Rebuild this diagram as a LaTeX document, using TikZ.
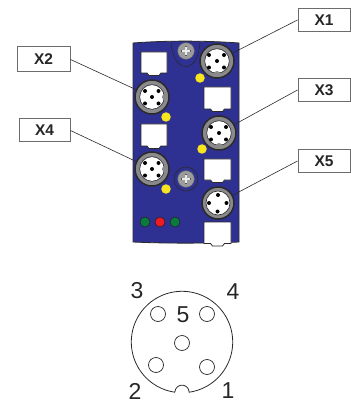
\documentclass[tikz,border=0pt]{standalone}
\usepackage{fontspec}
\setmainfont{Liberation Sans}
\definecolor{bodyblue}{HTML}{2E3192}
\definecolor{ringgray}{HTML}{8A8A8C}
\definecolor{ledyellow}{HTML}{F7E51E}
\definecolor{ledgreen}{HTML}{0B7A3E}
\definecolor{ledred}{HTML}{ED1C24}
\definecolor{edge}{HTML}{2A2A2A}
\tikzset{
  x=1pt,y=-1pt,
  label box/.style={draw=gray!85!black,line width=1pt,fill=white,minimum width=#1,minimum height=23pt,inner sep=0pt,font=\fontsize{15.5}{16}\selectfont\bfseries,text=black!85},
  leader/.style={draw=edge,line width=0.6pt},
  connector/.style={circle,draw=edge,line width=1.5pt,fill=ringgray,minimum size=34pt,inner sep=0pt},
  face/.style={fill=white,draw=edge,line width=0.6pt},
  pin/.style={fill=black},
  led/.style={circle,fill=#1,draw=edge!70!black,line width=0.5pt,minimum size=10pt,inner sep=0pt},
  yled/.style={circle,fill=ledyellow,minimum size=9.5pt,inner sep=0pt},
  socket/.style={fill=white,draw=edge,line width=0.8pt},
  hole/.style={circle,draw=edge,line width=0.7pt,minimum size=15pt,inner sep=0pt},
  digit/.style={font=\fontsize{23}{24}\selectfont,text=black!85,inner sep=0pt},
}
\newcommand{\sockethere}[4]{% x1 y1 x2 y2
  \draw[socket] (#1,#2) -- (#3,#2) -- (#3,#4) -- ({(#1+#3)/2+7},#4) -- ({(#1+#3)/2+5},#4+2.5) -- ({(#1+#3)/2-5},#4+2.5) -- ({(#1+#3)/2-7},#4) -- (#1,#4) -- cycle;}
\newcommand{\screwhere}[2]{%
  \fill[ringgray!85!white,draw=edge!70,line width=0.4pt] (#1,#2) circle (8.3);
  \draw[line width=2.6pt,edge!80] (#1-4.6,#2) -- (#1+4.6,#2) (#1,#2-4.6) -- (#1,#2+4.6);
  \draw[line width=1.5pt,white!85!gray] (#1-4,#2) -- (#1+4,#2) (#1,#2-4) -- (#1,#2+4);}
\newcommand{\facevert}[2]{% pins and notch at the bottom
  \fill[face] (#1,#2) circle (12.3);
  \fill[ringgray] (#1,#2+13) circle (3);
  \foreach \dx/\dy in {-8/-6,7/-6,0/0,-8/6.5,7/6.5} \fill[pin] (#1+\dx,#2+\dy) circle (2);}
\newcommand{\facehoriz}[2]{% pins and notch at the right
  \fill[face] (#1,#2) circle (12.3);
  \fill[ringgray] (#1+13,#2) circle (3);
  \foreach \dx/\dy in {-7/-6,6.5/-6,0/0,-7/6.5,6.5/6.5} \fill[pin] (#1+\dx,#2+\dy) circle (2);}
\begin{document}
\begin{tikzpicture}
\useasboundingbox (0,0) rectangle (350,403);
% body
\draw[fill=bodyblue,draw=edge,line width=0.8pt] (133,43) .. controls (165,40.5) and (205,40.5) .. (239,43) -- (239,242) .. controls (205,243.5) and (165,243.5) .. (133,242) -- cycle;
\draw[edge,line width=0.6pt] (171,42.5) .. controls (172,57) and (178,66.5) .. (186,66.5) .. controls (194,66.5) and (199,57) .. (200,42.5);
\draw[edge,line width=0.6pt] (186,179) circle (12);
% sockets
\sockethere{141}{52}{167}{73}
\sockethere{204}{87}{231}{109}
\sockethere{141}{124}{167}{146}
\sockethere{204}{159}{231}{180}
\sockethere{204}{222}{231}{243.5}
% screws
\screwhere{186}{51}
\screwhere{186}{179}
% labels
\node[label box=52pt] (lX1) at (324,20) {X1};
\node[label box=53pt,minimum height=25pt] (lX2) at (43.5,59.5) {X2};
\node[label box=52pt] (lX3) at (324,90) {X3};
\node[label box=51pt] (lX4) at (44.5,130.5) {X4};
\node[label box=52pt] (lX5) at (324,161) {X5};
% connectors
\node[connector] (cX1) at (217,61) {};
\node[connector] (cX2) at (152,97) {};
\node[connector] (cX3) at (219,133) {};
\node[connector] (cX4) at (152,169) {};
\node[connector,minimum size=32pt] (cX5) at (218,203) {};
\draw[leader] (lX1.west) -- (cX1);
\draw[leader] (lX2.east) -- (cX2);
\draw[leader] (lX3.west) -- (cX3);
\draw[leader] (lX4.east) -- (cX4);
\draw[leader] (lX5.west) -- (cX5);
\facevert{217}{61}
\facehoriz{152}{97}
\facevert{219}{133}
\facehoriz{152}{169}
\fill[face] (218,203) circle (12);
\foreach \dx/\dy in {0/-8,-9/0,8.5/0,-0.5/8.5} \fill[pin] (218+\dx,203+\dy) circle (2);
% LEDs
\node[yled] (y1) at (200,78) {};
\node[yled] (y2) at (166,117) {};
\node[yled] (y3) at (202,149) {};
\node[yled] (y4) at (166,189) {};
\node[led=ledgreen] (g1) at (145,222) {};
\node[led=ledred] (r1) at (160,222) {};
\node[led=ledgreen] (g2) at (175,222) {};
% pin diagram
\draw[edge,line width=0.8pt,line join=round]
  plot[domain=98:442,samples=140] ({182+50.7*cos(\x)},{342+50.7*sin(\x)})
  -- plot[domain=0:-180,samples=30] ({182+7*cos(\x)},{392.2+7*sin(\x)});
\node[hole] (p1) at (207,367) {};
\node[hole] (p2) at (156,365) {};
\node[hole] (p3) at (158,314) {};
\node[hole] (p4) at (207,314) {};
\node[hole] (p5) at (182,343) {};
\node[digit] (n1) at (228,391) {1};
\node[digit] (n2) at (135,391.5) {2};
\node[digit] (n3) at (137,291) {3};
\node[digit] (n4) at (233,292) {4};
\node[digit] (n5) at (183,315) {5};
\end{tikzpicture}
\end{document}
